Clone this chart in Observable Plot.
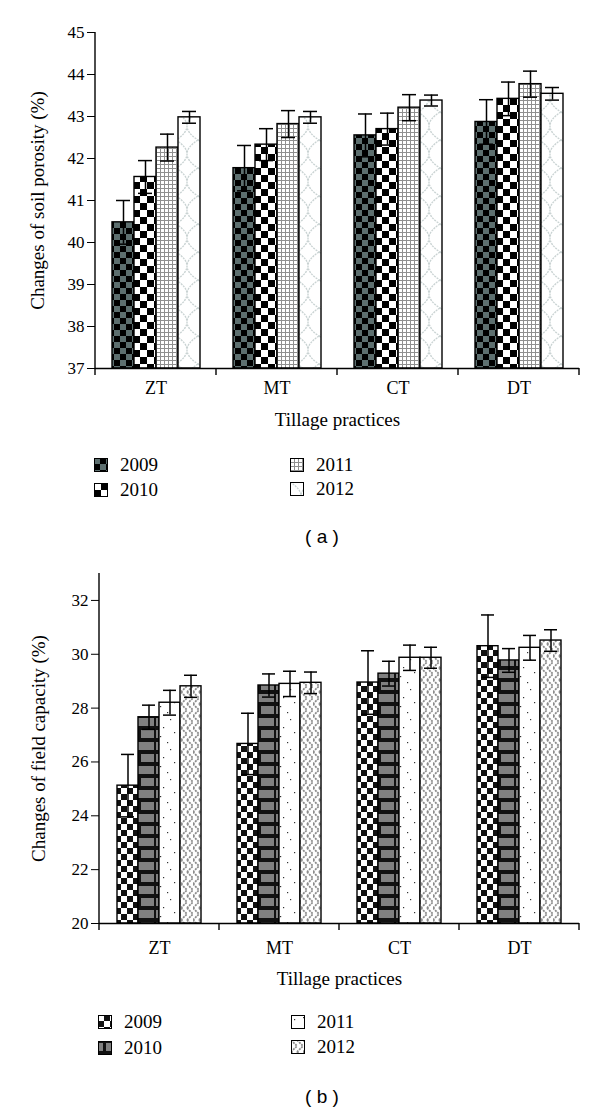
<!DOCTYPE html>
<html><head><meta charset="utf-8">
<script src="https://cdn.jsdelivr.net/npm/d3@7"></script>
<script src="https://cdn.jsdelivr.net/npm/@observablehq/plot@0.6"></script>
<style>
body{margin:0;width:600px;height:1111px;position:relative;background:#fff;font-family:'Liberation Serif',serif;color:#000}
.chart{position:absolute;left:0}
.leg{position:absolute;display:flex;align-items:center;font-size:19px;line-height:20px;height:20px}
.leg svg{margin-right:12px}
.cap{position:absolute;font-family:'Liberation Sans',sans-serif;font-size:19px;line-height:20px;width:100px;text-align:center}
svg g[aria-label="y-axis label"] text{font-size:19px}
svg g[aria-label="fx-axis label"] text{font-size:19px}
svg g[aria-label="fx-axis tick label"] text{font-size:18px}
</style></head>
<body>
<svg width="0" height="0" style="position:absolute">
<defs>
 <pattern id="a09" width="12" height="12" patternUnits="userSpaceOnUse">
  <rect width="12" height="12" fill="#000"/><rect width="6" height="6" fill="#5d6f6f"/><rect x="6" y="6" width="6" height="6" fill="#5d6f6f"/>
 </pattern>
 <pattern id="a10" width="14" height="14" patternUnits="userSpaceOnUse">
  <rect width="14" height="14" fill="#fff"/><rect x="7" width="7" height="7" fill="#000"/><rect y="7" width="7" height="7" fill="#000"/>
 </pattern>
 <pattern id="a11" width="4" height="4" patternUnits="userSpaceOnUse">
  <rect width="4" height="4" fill="#fff"/><path d="M0,0.5H4M0.5,0V4" stroke="#8f8f8f" stroke-width="1"/>
 </pattern>
 <pattern id="a12" width="22" height="28" patternUnits="userSpaceOnUse">
  <rect width="22" height="28" fill="#fff"/>
  <path d="M0,0Q11,7 11,14Q11,21 0,28M22,0Q11,7 11,14Q11,21 22,28" fill="none" stroke="#c8d2d2" stroke-width="1.3" stroke-dasharray="2,1"/>
 </pattern>
 <pattern id="b09" width="12" height="12" patternUnits="userSpaceOnUse">
  <rect width="12" height="12" fill="#fff"/><rect x="6" width="6" height="6" fill="#111"/><rect y="6" width="6" height="6" fill="#111"/>
 </pattern>
 <pattern id="b10" width="22" height="24" patternUnits="userSpaceOnUse">
  <rect width="22" height="24" fill="#111"/>
  <rect x="1" y="2" width="4" height="8" fill="#808080"/><rect x="8" y="2" width="13" height="8" fill="#808080"/>
  <rect x="1" y="14" width="20" height="8" fill="#808080"/>
 </pattern>
 <pattern id="b11" width="22" height="30" patternUnits="userSpaceOnUse">
  <rect width="22" height="30" fill="#fff"/>
  <g fill="#333"><rect x="3" y="4" width="1.2" height="1.2"/><rect x="15" y="9" width="1.2" height="1.2"/><rect x="8" y="17" width="1.2" height="1.2"/><rect x="19" y="22" width="1.2" height="1.2"/><rect x="5" y="26" width="1.2" height="1.2"/><rect x="12" y="2" width="1.2" height="1.2"/></g>
 </pattern>
 <pattern id="b12" width="12" height="12" patternUnits="userSpaceOnUse">
  <rect width="12" height="12" fill="#fff"/>
  <path d="M0,0L6,6L0,12M6,0L12,6L6,12" fill="none" stroke="#8c8c8c" stroke-width="1.8" stroke-dasharray="2,1"/>
 </pattern>
</defs></svg>

<div id="chartA" class="chart" style="top:0"></div>
<div id="chartB" class="chart" style="top:560px"></div>

<script>
// ---- data ----
const categories = ["ZT", "MT", "CT", "DT"];
const years = ["2009", "2010", "2011", "2012"];

// (a) soil porosity (%)
const porosity2009 = [40.48, 41.77, 42.55, 42.87];
const porosity2010 = [41.56, 42.33, 42.70, 43.42];
const porosity2011 = [42.26, 42.82, 43.21, 43.77];
const porosity2012 = [42.98, 42.98, 43.38, 43.54];
const porosityErr2009 = [0.52, 0.54, 0.51, 0.53];
const porosityErr2010 = [0.39, 0.38, 0.38, 0.40];
const porosityErr2011 = [0.32, 0.32, 0.31, 0.31];
const porosityErr2012 = [0.14, 0.14, 0.13, 0.15];
const porosityTicks = [37, 38, 39, 40, 41, 42, 43, 44, 45];

// (b) field capacity (%)
const capacity2009 = [25.12, 26.67, 28.95, 30.30];
const capacity2010 = [27.66, 28.84, 29.28, 29.77];
const capacity2011 = [28.20, 28.90, 29.87, 30.24];
const capacity2012 = [28.81, 28.94, 29.87, 30.51];
const capacityErr2009 = [1.16, 1.14, 1.18, 1.16];
const capacityErr2010 = [0.45, 0.43, 0.46, 0.44];
const capacityErr2011 = [0.46, 0.47, 0.47, 0.46];
const capacityErr2012 = [0.41, 0.40, 0.39, 0.40];
const capacityTicks = [20, 22, 24, 26, 28, 30, 32];

function rowsOf(vals, errs) {
  return categories.flatMap((c, i) => years.map((yr, j) => ({cat: c, year: yr, value: vals[j][i], err: errs[j][i]})));
}

function makeChart(o) {
  const rows = rowsOf(o.values, o.errors);
  const plot = Plot.plot({
    width: 600, height: o.height,
    marginLeft: o.ml, marginRight: o.mr, marginTop: o.mt, marginBottom: o.mb,
    style: {fontFamily: "'Liberation Serif', serif", fontSize: "17px", color: "#000", background: "#fff", overflow: "visible"},
    fx: {domain: categories, padding: 0},
    x: {domain: years, paddingInner: 0, paddingOuter: 0.75, axis: null},
    y: {domain: o.yDomain},
    color: {domain: years, range: o.fills},
    marks: [
      Plot.barY(rows, {fx: "cat", x: "year", y1: o.yDomain[0], y2: "value", fill: "year", stroke: "#000", strokeWidth: 1.4}),
      Plot.ruleX(rows, {fx: "cat", x: "year", y1: d => d.value - d.err, y2: d => d.value + d.err, stroke: "#000", strokeWidth: 1.5}),
      Plot.tickY(rows, {fx: "cat", x: "year", y: d => d.value + d.err, insetLeft: 4, insetRight: 4, stroke: "#000", strokeWidth: 1.5}),
      Plot.tickY(rows, {fx: "cat", x: "year", y: d => d.value - d.err, insetLeft: 4, insetRight: 4, stroke: "#000", strokeWidth: 1.5}),
      Plot.ruleY([o.yDomain[0]], {stroke: "#000", strokeWidth: 1.4}),
      Plot.axisY({ticks: o.yTicks, tickSize: 8, tickPadding: 3, label: o.yLabel, labelAnchor: "center", labelArrow: "none", labelOffset: o.labelOffset}),
      Plot.axisFx({anchor: "bottom", tickSize: 0, tickPadding: o.fxPad, label: "Tillage practices", labelAnchor: "center", labelArrow: "none", labelOffset: o.fxLabelOffset})
    ]
  });
  // axis line and category boundary ticks, positioned with the plot's own scales
  const fx = plot.scale("fx"), y = plot.scale("y");
  const svg = d3.select(plot.tagName.toLowerCase() === "svg" ? plot : plot.querySelector("svg"));
  const g = svg.append("g").attr("stroke", "#000").attr("stroke-width", 1.4);
  const x0 = fx.apply(categories[0]);
  g.append("line").attr("x1", x0).attr("x2", x0).attr("y1", y.apply(o.yDomain[1])).attr("y2", y.apply(o.yDomain[0]) + 7);
  const edges = categories.map(c => fx.apply(c)).concat([fx.apply(categories[categories.length - 1]) + fx.bandwidth]);
  edges.slice(1).forEach(e => g.append("line").attr("x1", e).attr("x2", e).attr("y1", y.apply(o.yDomain[0])).attr("y2", y.apply(o.yDomain[0]) + 7));
  return plot;
}

document.getElementById("chartA").append(makeChart({
  values: [porosity2009, porosity2010, porosity2011, porosity2012],
  errors: [porosityErr2009, porosityErr2010, porosityErr2011, porosityErr2012],
  yDomain: [37, 45], yTicks: porosityTicks, yLabel: "Changes of soil porosity (%)",
  fills: ["url(#a09)", "url(#a10)", "url(#a11)", "url(#a12)"],
  height: 440, ml: 95, mr: 21, mt: 32, mb: 72, labelOffset: 65, fxPad: 13, fxLabelOffset: 57
}));
document.getElementById("chartB").append(makeChart({
  values: [capacity2009, capacity2010, capacity2011, capacity2012],
  errors: [capacityErr2009, capacityErr2010, capacityErr2011, capacityErr2012],
  yDomain: [20, 33], yTicks: capacityTicks, yLabel: "Changes of field capacity (%)",
  fills: ["url(#b09)", "url(#b10)", "url(#b11)", "url(#b12)"],
  height: 440, ml: 98, mr: 21, mt: 13, mb: 77, labelOffset: 68, fxPad: 18, fxLabelOffset: 61
}));

// legends (HTML)
function legend(items, fills, pos) {
  items.forEach((t, i) => {
    const d = document.createElement("div");
    d.className = "leg";
    d.style.left = pos[i][0] + "px"; d.style.top = (pos[i][1] - 10) + "px";
    d.innerHTML = `<svg width="14" height="14"><rect x="0.5" y="0.5" width="13" height="13" fill="${fills[i]}" stroke="#000"/></svg>${t}`;
    document.body.append(d);
  });
}
legend(years, ["url(#a09)", "url(#a10)", "url(#a11)", "url(#a12)"], [[94, 465], [94, 490], [290, 465], [290, 489]]);
legend(years, ["url(#b09)", "url(#b10)", "url(#b11)", "url(#b12)"], [[98, 1022], [98, 1048], [291, 1022], [291, 1047]]);
function caption(t, x, y) {
  const d = document.createElement("div"); d.className = "cap";
  d.style.left = (x - 50) + "px"; d.style.top = (y - 10) + "px"; d.textContent = t;
  document.body.append(d);
}
caption("( a )", 322, 537);
caption("( b )", 322, 1097);
</script>
</body></html>
